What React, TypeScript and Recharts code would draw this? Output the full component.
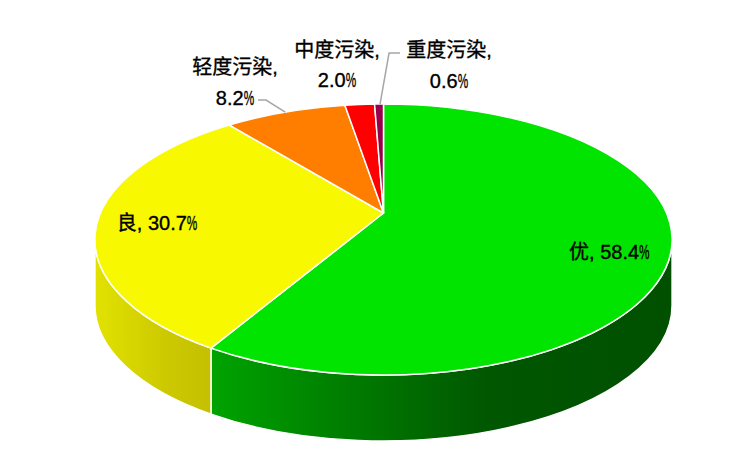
import { PieChart, Pie, Cell } from 'recharts';

// air quality level shares (%)
const levels = ['优', '良', '轻度污染', '中度污染', '重度污染'];
const shares = [58.4, 30.7, 8.2, 2.0, 0.6];
const topColors = ['#00E400', '#F8F800', '#FF7E00', '#FF0000', '#99004C'];
// shading of the outer wall, left to right
const wallShades = [
  ['#00A300', '#007C00', '#005700', '#005000'],
  ['#E2E200', '#D8D600', '#CDC900', '#C4C000'],
  ['#D86A00', '#C05E00', '#A85200', '#984a00'],
  ['#D80000', '#C00000', '#A80000', '#980000'],
  ['#820040', '#740039', '#660032', '#5c002d'],
];

const data = levels.map((name, i) => ({ name, value: shares[i] }));

// pie plane seen from above with some perspective: near edge bigger
const APEX_X = 383.5;
const APEX_Y = 213;
const RADIUS = 283;
const TILT = 0.4604;
const PERSP = 0.1956;
const DEPTH = 66;
const FONT = "'Liberation Sans', Arial, 'Noto Sans CJK SC', sans-serif";
const FONT_SIZE = 20;

const rad = (d: number) => (d * Math.PI) / 180;

// t = degrees clockwise from 12 o'clock, k = fraction of the radius
function project(cx: number, cy: number, r: number, t: number, k = 1) {
  const u = k * Math.sin(rad(t));
  const w = -k * Math.cos(rad(t));
  const d = 1 - PERSP * w;
  return [cx + (r * u) / d, cy + (r * TILT * w) / d];
}

// the projected rim is an axis aligned ellipse
function rimEllipse(cx: number, cy: number, r: number) {
  const q = 1 - PERSP * PERSP;
  return { ex: cx, ey: cy + (r * TILT * PERSP) / q, rx: r / Math.sqrt(q), ry: (r * TILT) / q };
}

function Slice3D(props: any) {
  const { cx, cy, outerRadius: r, startAngle, endAngle } = props;
  const name = props.name ?? props.payload?.name;
  const i = levels.indexOf(name);
  const e = rimEllipse(cx, cy, r);
  const phiOf = (t: number) => {
    const [x, y] = project(cx, cy, r, t);
    let p = (Math.atan2((x - e.ex) / e.rx, -(y - e.ey) / e.ry) * 180) / Math.PI;
    if (p < 0) p += 360;
    if (t > 180 && p < 90) p += 360;
    return p;
  };
  const onRim = (p: number, dy = 0) => [e.ex + e.rx * Math.sin(rad(p)), e.ey - e.ry * Math.cos(rad(p)) + dy];

  const t0 = 90 - startAngle;
  const t1 = 90 - endAngle;
  const p0 = phiOf(t0);
  const p1 = phiOf(t1);
  const [x0, y0] = onRim(p0);
  const [x1, y1] = onRim(p1);
  const large = p1 - p0 > 180 ? 1 : 0;
  const top = `M${cx},${cy} L${x0},${y0} A${e.rx},${e.ry} 0 ${large} 1 ${x1},${y1} Z`;

  // only the front half of the rim shows a wall
  const a = Math.max(p0, 90);
  const b = Math.min(p1, 270);
  let wall = null;
  if (b > a) {
    const [ax, ay] = onRim(a);
    const [bx, by] = onRim(b);
    const d =
      `M${ax},${ay} A${e.rx},${e.ry} 0 0 1 ${bx},${by} ` +
      `L${bx},${by + DEPTH} A${e.rx},${e.ry} 0 0 0 ${ax},${ay + DEPTH} Z`;
    wall = <path d={d} fill={`url(#wall${i})`} stroke="#fff" strokeWidth={1.5} strokeLinejoin="round" />;
  }
  return (
    <g>
      {wall}
      <path d={top} fill={topColors[i]} stroke="#fff" strokeWidth={1.5} strokeLinejoin="round" />
    </g>
  );
}

// rough advance widths (em) for centring the split labels
function textWidth(s: string) {
  let w = 0;
  for (const ch of s) {
    if (ch.charCodeAt(0) > 0x2e80) w += 1;
    else if (/[0-9]/.test(ch)) w += 0.556;
    else w += 0.278;
  }
  return w * FONT_SIZE;
}

const PCT_W = 10.5;

// text centred on x, with a narrow percent sign
function LabelText({ x, y, body, pct }: { x: number; y: number; body: string; pct: boolean }) {
  const bw = textWidth(body);
  const total = bw + (pct ? PCT_W : 0);
  const split = x - total / 2 + bw;
  const common = {
    y,
    fill: '#000',
    stroke: '#000',
    strokeWidth: 0.35,
    fontSize: FONT_SIZE,
    fontFamily: FONT,
    dominantBaseline: 'central' as const,
  };
  return (
    <g>
      <text x={split} textAnchor="end" {...common}>{body}</text>
      {pct && (
        <text x={split} textAnchor="start" textLength={PCT_W} lengthAdjust="spacingAndGlyphs" {...common}>
          %
        </text>
      )}
    </g>
  );
}

// label placement relative to each slice's mid point
const labelPlace = [
  { k: 0.8, dx: -2, dy: 10.5 },
  { k: 0.8, dx: 2, dy: 2 },
  { k: 1, dx: -50.3, dy: -45 },
  { k: 1, dx: -22.7, dy: -54.5 },
  { k: 1, dx: 70, dy: -54 },
];

function renderLabel(props: any) {
  const { cx, cy, midAngle, outerRadius: r, index } = props;
  const t = 90 - midAngle;
  const p = labelPlace[index];
  const [mx, my] = project(cx, cy, r, t, p.k);
  const x = mx + p.dx;
  const y = my + p.dy;
  const value = shares[index].toFixed(1);
  if (p.k < 1) {
    return <LabelText x={x} y={y} body={`${levels[index]}, ${value}`} pct />;
  }
  let leader = null;
  if (index === 2) {
    leader = `M${mx},${my} L${x + 31},${y + 33} L${x + 23},${y + 33}`;
  } else if (index === 4) {
    leader = `M${mx + 1},${my} L${x - 60},${y + 3} L${x - 49},${y + 3}`;
  }
  return (
    <g>
      {leader && <path d={leader} fill="none" stroke="#A6A6A6" strokeWidth={1.5} />}
      <LabelText x={x} y={y} body={`${levels[index]},`} pct={false} />
      <LabelText x={x} y={y + 30.5} body={value} pct />
    </g>
  );
}

export default function App() {
  return (
    <div style={{ position: 'absolute', left: 0, top: 0, width: 750, height: 450, background: '#fff' }}>
      <PieChart width={750} height={450} margin={{ top: 0, right: 0, bottom: 0, left: 0 }}>
        <defs>
          {wallShades.map((s, i) => (
            <linearGradient key={i} id={`wall${i}`} x1="0" y1="0" x2="1" y2="0">
              <stop offset="0" stopColor={s[0]} />
              <stop offset="0.3" stopColor={s[1]} />
              <stop offset="0.6" stopColor={s[2]} />
              <stop offset="1" stopColor={s[3]} />
            </linearGradient>
          ))}
        </defs>
        <Pie
          data={data}
          dataKey="value"
          nameKey="name"
          cx={APEX_X}
          cy={APEX_Y}
          outerRadius={RADIUS}
          startAngle={90}
          endAngle={-270}
          shape={Slice3D}
          label={renderLabel}
          labelLine={false}
          isAnimationActive={false}
        >
          {data.map((d, i) => (
            <Cell key={d.name} fill={topColors[i]} />
          ))}
        </Pie>
      </PieChart>
    </div>
  );
}
